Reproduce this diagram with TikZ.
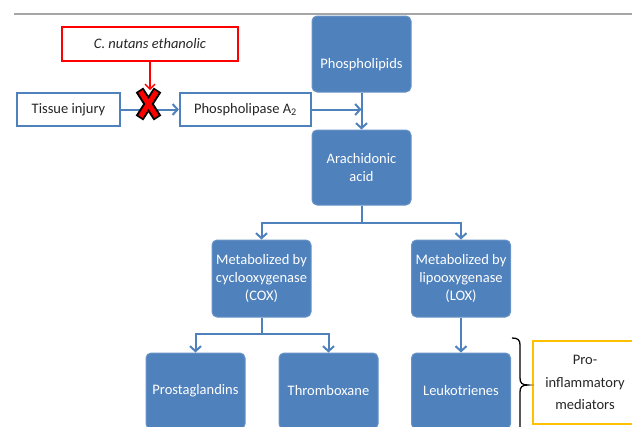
\documentclass[tikz,border=0pt]{standalone}
\usepackage{fontspec}
\setmainfont{Carlito}
\usetikzlibrary{arrows.meta}
\definecolor{boxblue}{HTML}{4F81BD}
\definecolor{txtgray}{HTML}{262626}
\definecolor{ybox}{HTML}{FFC000}
\newcommand\lblfont{\fontsize{14.5}{18}\selectfont}
\begin{document}
\begin{tikzpicture}[x=1pt,y=1pt,
  bluebox/.style={rectangle, rounded corners=5pt, fill=boxblue, draw=boxblue!85!white, line width=1pt,
    text=white, align=center, font=\lblfont, inner sep=0pt, minimum width=99pt},
  outbox/.style={rectangle, draw=boxblue, line width=2.2pt, fill=white, text=txtgray,
    font=\lblfont, inner sep=0pt, minimum height=33pt},
  arr/.style={draw=boxblue, line width=2pt, -{Straight Barb[length=5pt,width=11pt,line width=2pt]}},
  redarr/.style={draw=red, line width=1.4pt, -{Straight Barb[length=5pt,width=10pt,line width=1.4pt]}}
]
\useasboundingbox (0,0) rectangle (632,-426);
\clip (0,0) rectangle (632,-426);
\draw[gray!70, line width=1.8pt] (14,-14) -- (632,-14);

\node[rectangle, draw=red, line width=2.2pt, fill=white, text=txtgray, font=\lblfont\itshape,
  minimum width=176pt, minimum height=34pt, inner sep=0pt] (cn) at (150,-44) {C. nutans ethanolic};
\node[outbox, minimum width=103pt] (tissue) at (68.5,-109.5) {Tissue injury};
\node[outbox, minimum width=131pt] (pla) at (245.5,-109.5) {Phospholipase A\textsubscript{2}};

\node[bluebox, minimum height=76pt] (phl) at (361.5,-54) {\raisebox{-14pt}[0pt][0pt]{Phospholipids}};
\node[bluebox, minimum height=75pt] (ara) at (361.5,-167.5) {Arachidonic\\acid};
\node[bluebox, minimum height=77pt] (cox) at (261.5,-278.5) {Metabolized by\\cyclooxygenase\\(COX)};
\node[bluebox, minimum height=77pt] (lox) at (461,-278.5) {Metabolized by\\lipooxygenase\\(LOX)};
\node[bluebox, minimum height=76pt] (pro) at (195.5,-391) {Prostaglandins};
\node[bluebox, minimum height=76pt] (thr) at (328.5,-391) {Thromboxane};
\node[bluebox, minimum height=76pt] (leu) at (461,-391) {Leukotrienes};

\node[rectangle, draw=ybox, line width=2.5pt, fill=white, text=txtgray, align=center,
  font=\fontsize{14.5}{22.5}\selectfont, minimum width=104pt, minimum height=83pt, inner sep=0pt]
  (med) at (585,-382.5) {\raisebox{-2.5pt}{\parbox{100pt}{\centering Pro-\\inflammatory\\mediators}}};

\coordinate (join) at (361.5,-109.5);
\coordinate (block) at (150,-90);

\draw[arr] (tissue) -- (pla);
\draw[arr] (pla.east) -- (join);
\draw[arr] (phl.south) -- (ara.north);
\draw[arr] (ara.south) -- ++(0,-17.5) -| (cox.north);
\draw[arr] (ara.south) -- ++(0,-17.5) -| (lox.north);
\draw[arr] (cox.south) -- ++(0,-16) -| (pro.north);
\draw[arr] (cox.south) -- ++(0,-16) -| (thr.north);
\draw[arr] (lox) -- (leu);
\draw[redarr] (cn.south) -- (block);

% blocking X
\coordinate (xc) at (148.5,-104);
\draw[black, line width=9pt] ([shift={(-9,14)}]xc) -- ([shift={(9,-14)}]xc)
  ([shift={(9,14)}]xc) -- ([shift={(-9,-14)}]xc);
\draw[red, line width=5pt] ([shift={(-8,12.5)}]xc) -- ([shift={(8,-12.5)}]xc)
  ([shift={(8,12.5)}]xc) -- ([shift={(-8,-12.5)}]xc);

% brace
\draw[black, line width=1.3pt] (512,-338) .. controls (518,-338) and (520,-340) .. (520,-345)
  -- (520,-378) .. controls (520,-383) and (522,-385) .. (528,-385)
  .. controls (522,-385) and (520,-387) .. (520,-392) -- (520,-432);
\end{tikzpicture}
\end{document}
